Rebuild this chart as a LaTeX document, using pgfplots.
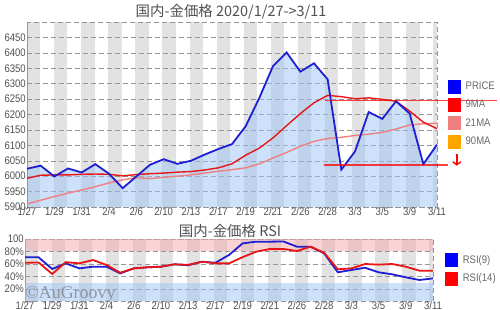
\documentclass[border=0pt]{standalone}
\usepackage{pgfplots}
\pgfplotsset{compat=1.18}
\usepackage{pgfplotstable}
\usepgfplotslibrary{fillbetween}
\usetikzlibrary{arrows.meta}
\usepackage{fontspec}
\setmainfont{Liberation Sans}
\newfontfamily\narrow{Liberation Sans}[FakeStretch=0.87]
\newfontfamily\cjk{Noto Sans CJK JP}
\newfontfamily\wmfont{Liberation Serif}

\definecolor{pblue}{RGB}{30,30,210}
\definecolor{lblue}{RGB}{0,0,255}
\definecolor{mared}{RGB}{235,20,20}
\definecolor{masal}{RGB}{240,128,128}
\definecolor{maorg}{RGB}{255,165,0}
\definecolor{fillb}{RGB}{155,195,245}
\definecolor{fillp}{RGB}{245,170,170}
\definecolor{stripe}{RGB}{226,226,226}
\definecolor{gridc}{RGB}{150,150,150}
\definecolor{txt}{RGB}{80,80,80}
\definecolor{ltxt}{RGB}{105,105,105}

\pgfplotstableread{
x price ma9 ma21
0 6024 5993 5910
1 6034 6003 5922
2 5999 6004 5934
3 6025 6004 5945
4 6012 6006 5955
5 6039 6007 5966
6 6008 6006 5978
7 5961 6001 5988
8 5999 6005 5995
9 6037 6008 5992
10 6055 6010 5996
11 6040 6013 6000
12 6050 6015 6004
13 6070 6020 6010
14 6088 6027 6016
15 6104 6040 6021
16 6162 6068 6027
17 6254 6091 6040
18 6357 6124 6059
19 6401 6164 6077
20 6339 6203 6097
21 6366 6238 6113
22 6314 6262 6122
23 6021 6258 6126
24 6080 6251 6132
25 6208 6254 6136
26 6186 6249 6142
27 6243 6243 6153
28 6203 6211 6166
29 6039 6175 6170
30 6102 6154 6172
}\maindata

\pgfplotstableread{
x r9 r14
0 70.7 62
1 70.7 62.4
2 52 44
3 61 63
4 53 61
5 55.7 66.4
6 55.7 58.4
7 45 46
8 53 53
9 54.7 54.7
10 55.7 55.7
11 59.5 59.5
12 58 58.6
13 63.7 63.7
14 62 61
15 74.4 61
16 93 71
17 95.7 79.7
18 95.7 84
19 96 84
20 87.7 80.8
21 87.7 87.7
22 77 78
23 46.7 51.5
24 50.4 53
25 54 60
26 46.7 59
27 43.5 60
28 38.7 55.7
29 34.4 49.3
30 37 49.3
}\rsidata

\pgfplotsset{mystyle/.style={
  scale only axis, set layers, clip=false,
  xmin=0, xmax=30,
  axis line style={draw=gridc, dash pattern=on 5bp off 3bp},
  ymajorgrids, major grid style={draw=gridc, dash pattern=on 5bp off 3bp},
  major tick length=0pt, tick style={draw=none},
  xtick={0,2,...,30},
  xticklabels={1/27,1/29,1/31,2/4,2/6,2/10,2/13,2/17,2/19,2/21,2/26,2/28,3/3,3/5,3/9,3/11},
  ticklabel style={font=\narrow\fontsize{11}{12}\selectfont, text=txt},
  xticklabel style={inner ysep=0bp},
  yticklabel style={inner xsep=1bp},
  /pgf/number format/assume math mode=true,
  legend cell align=left,
  legend style={draw=none, fill=none, anchor=north west, font=\narrow\fontsize{11}{12}\selectfont, text=ltxt, row sep=5bp, inner sep=0pt,
    /tikz/every odd column/.append style={column sep=3bp}},
}}

\begin{document}
\begin{tikzpicture}

\begin{axis}[mystyle, at={(27bp,103bp)}, anchor=south west, width=410bp, height=185bp,
  ymin=5900, ymax=6500, ytick={5900,5950,...,6450},
  yticklabels={5900,5950,6000,6050,6100,6150,6200,6250,6300,6350,6400,6450},
  legend style={at={(1.027,0.69)}}]
\begin{pgfonlayer}{axis background}
\pgfplotsinvokeforeach{0,...,14}{\fill[stripe] ({1.982*#1},5900) rectangle ({1.982*#1+0.975},6500);}
\fill[stripe] (29.73,5900) rectangle (30,6500);
\end{pgfonlayer}
\draw[gridc] (rel axis cs:0,0) -- (rel axis cs:0,1);
\addplot[name path=price, draw=none, forget plot] table[x=x,y=price]{\maindata};
\path[name path=base] (axis cs:0,5900) -- (axis cs:30,5900);
\addplot[fillb, fill opacity=0.5, forget plot] fill between[of=price and base];
\addplot[masal, line width=1.4bp, forget plot] table[x=x,y=ma21]{\maindata};
\addplot[mared, line width=1.4bp, forget plot] table[x=x,y=ma9]{\maindata};
\addplot[pblue, line width=1.8bp, forget plot] table[x=x,y=price]{\maindata};
\addplot[red, opacity=0.75, line width=1.6bp, forget plot] coordinates {(21.8,6245) (34.4,6245)};
\addplot[red, opacity=0.75, line width=1.6bp, forget plot] coordinates {(21.7,6037) (30.8,6037)};
\addplot[red, line width=1.4bp, -{Straight Barb[length=3bp,width=8bp]}, forget plot] coordinates {(31.45,6072) (31.45,6034)};
\addlegendimage{legend image code/.code={\fill[lblue] (0bp,-6.5bp) rectangle (12bp,6.5bp);}}
\addlegendentry{PRICE}
\addlegendimage{legend image code/.code={\fill[red] (0bp,-6.5bp) rectangle (12bp,6.5bp);}}
\addlegendentry{9MA}
\addlegendimage{legend image code/.code={\fill[masal] (0bp,-6.5bp) rectangle (12bp,6.5bp);}}
\addlegendentry{21MA}
\addlegendimage{legend image code/.code={\fill[maorg] (0bp,-6.5bp) rectangle (12bp,6.5bp);}}
\addlegendentry{90MA}
\end{axis}

\begin{axis}[mystyle, at={(25bp,8.5bp)}, anchor=south west, width=408bp, height=62.5bp,
  ymin=0, ymax=100, ytick={20,40,60,80,100},
  yticklabels={20\%,40\%,60\%,80\%,100},
  legend style={at={(1.03,0.776)}}]
\begin{pgfonlayer}{axis background}
\pgfplotsinvokeforeach{0,...,14}{\fill[stripe] ({1.982*#1},0) rectangle ({1.982*#1+0.975},100);}
\fill[stripe] (29.73,0) rectangle (30,100);
\end{pgfonlayer}
\draw[gridc] (rel axis cs:0,0) -- (rel axis cs:0,1);
\fill[fillp, fill opacity=0.5] (axis cs:0,80) rectangle (axis cs:30,100);
\fill[fillb, fill opacity=0.5] (axis cs:0,0) rectangle (axis cs:30,30);
\addplot[pblue, line width=1.8bp, forget plot] table[x=x,y=r9]{\rsidata};
\addplot[mared, line width=1.8bp, forget plot] table[x=x,y=r14]{\rsidata};
\node[anchor=base west, text=gray, opacity=0.75, font=\wmfont\fontsize{18}{18}\selectfont] at (rel axis cs:-0.008,0.056) {©AuGroovy};
\addlegendimage{legend image code/.code={\fill[lblue] (0bp,-6.5bp) rectangle (12bp,6.5bp);}}
\addlegendentry{RSI(9)}
\addlegendimage{legend image code/.code={\fill[red] (0bp,-6.5bp) rectangle (12bp,6.5bp);}}
\addlegendentry{RSI(14)}
\end{axis}

\node[font=\cjk\fontsize{14.5}{15}\selectfont, text=txt] at (231bp,298bp) {国内-金価格 2020/1/27->3/11};
\node[font=\cjk\fontsize{14.5}{15}\selectfont, text=txt] at (230bp,79bp) {国内-金価格 RSI};
\pgfresetboundingbox
\useasboundingbox (0,0) rectangle (500bp,310bp);
\end{tikzpicture}
\end{document}
